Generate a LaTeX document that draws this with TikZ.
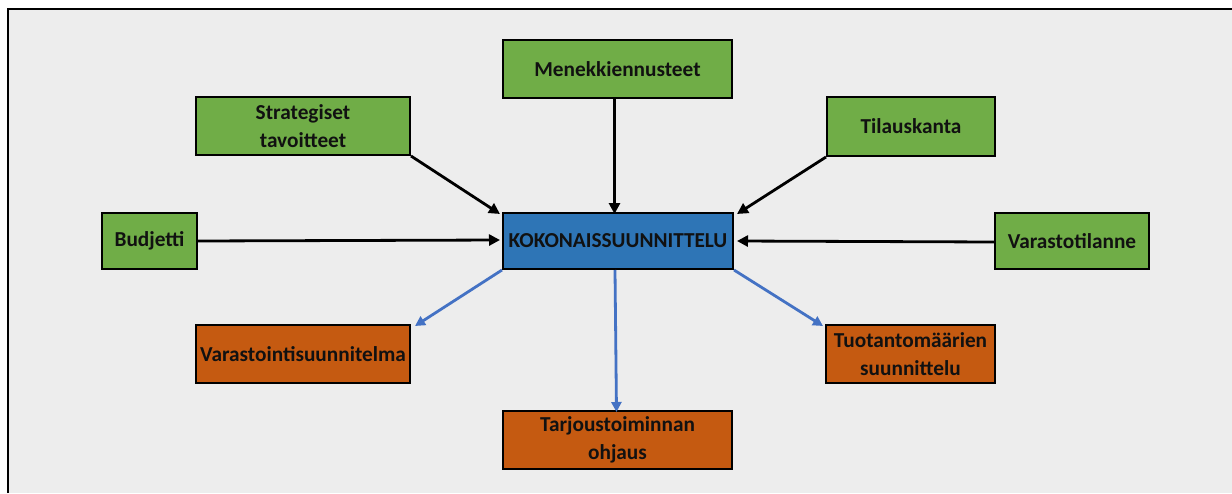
\documentclass[tikz,border=0pt]{standalone}
\usepackage{fontspec}
\setmainfont{Carlito}
\usetikzlibrary{arrows.meta}
\definecolor{sheet}{HTML}{EDEDED}
\definecolor{leafgreen}{HTML}{70AD47}
\definecolor{corebl}{HTML}{2E75B6}
\definecolor{rust}{HTML}{C55A11}
\definecolor{outbl}{HTML}{4472C4}
\definecolor{ink}{HTML}{111111}
\begin{document}
\begin{tikzpicture}[x=1pt,y=-1pt,
  card/.style={draw=black,line width=2pt,text=ink,font=\fontsize{21.3}{28}\selectfont\bfseries,
    align=center,inner sep=0pt,anchor=north west},
  incard/.style={card,fill=leafgreen},
  outcard/.style={card,fill=rust},
  feed/.style={draw=black,line width=2.8pt,-{Triangle[length=11pt,width=11pt]}},
  yield/.style={draw=outbl,line width=2.8pt,-{Triangle[length=10pt,width=10pt]}}]
\useasboundingbox (0,0) rectangle (1232,493);
\fill[white] (0,0) rectangle (1232,493);
\fill[sheet] (8,9) rectangle (1232,493);
\draw[black,line width=2pt] (8,493) -- (8,9) -- (1232,9);

% inputs
\node[incard,minimum width=229,minimum height=58] (men) at (502,39) {Menekkiennusteet};
\node[incard,minimum width=214,minimum height=58] (str) at (195,96) {Strategiset\\tavoitteet};
\node[incard,minimum width=168,minimum height=59] (til) at (826,96) {Tilauskanta};
\node[incard,minimum width=95,minimum height=56] (bud) at (101,212) {Budjetti};
\node[incard,minimum width=154,minimum height=56] (var) at (994,212) {Varastotilanne};

% core
\node[card,fill=corebl,minimum width=230,minimum height=56] (kok) at (502,212) {KOKONAISSUUNNITTELU};

% outputs
\node[outcard,minimum width=214,minimum height=58] (vsu) at (195,324) {Varastointisuunnitelma};
\node[outcard,minimum width=169,minimum height=58] (tuo) at (825,324) {Tuotantomäärien\\suunnittelu};
\node[outcard,minimum width=229,minimum height=58] (tar) at (502,410) {Tarjoustoiminnan\\ohjaus};

% flows into the plan
\draw[feed] ([xshift=-3]men.south) -- ([xshift=-3,yshift=-2]kok.north -| men.south);
\draw[feed] (str.south east) -- ([xshift=-2,yshift=-2]kok.north west);
\draw[feed] (til.south west) -- ([xshift=3,yshift=-2]kok.north east);
\draw[feed] (bud.east) -- ([xshift=-2,yshift=1]kok.west);
\draw[feed] ([yshift=-1]var.west) -- ([xshift=3]kok.east);

% flows out of the plan
\draw[yield] (kok.south west) -- ([xshift=4,yshift=-2]vsu.north east);
\draw[yield] ([xshift=-3]kok.south) -- ([xshift=-1,yshift=-2]tar.north);
\draw[yield] (kok.south east) -- ([xshift=-2,yshift=-2]tuo.north west);
\end{tikzpicture}
\end{document}
